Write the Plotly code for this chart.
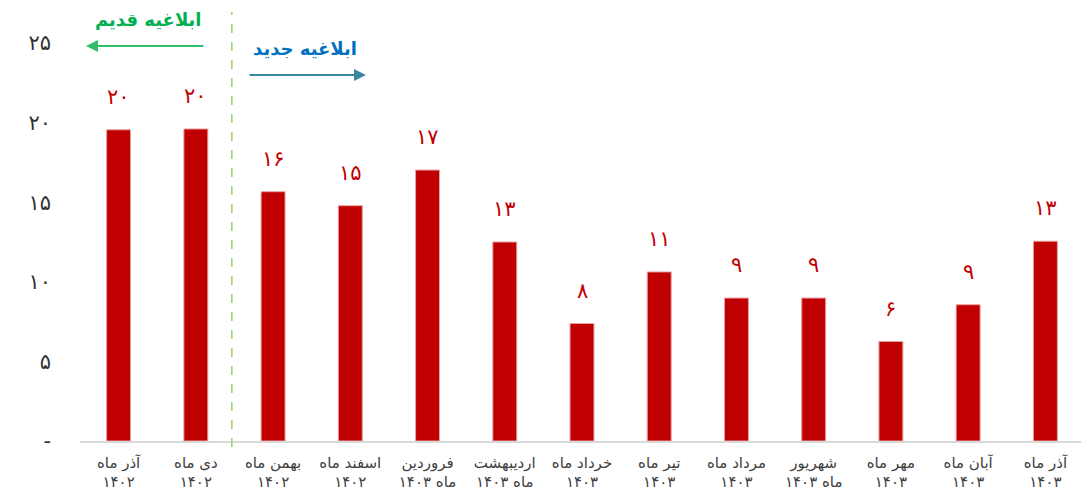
import plotly.graph_objects as go

categories = [
    "آذر ماه<br>۱۴۰۲", "دی ماه<br>۱۴۰۲", "بهمن ماه<br>۱۴۰۲", "اسفند ماه<br>۱۴۰۲",
    "فروردین<br>ماه ۱۴۰۳", "اردیبهشت<br>ماه ۱۴۰۳", "خرداد ماه<br>۱۴۰۳", "تیر ماه<br>۱۴۰۳",
    "مرداد ماه<br>۱۴۰۳", "شهریور<br>ماه ۱۴۰۳", "مهر ماه<br>۱۴۰۳", "آبان ماه<br>۱۴۰۳",
    "آذر ماه<br>۱۴۰۳",
]
values = [19.55, 19.6, 15.66, 14.78, 17.02, 12.5, 7.38, 10.62, 8.98, 8.98, 6.25, 8.56, 12.55]
value_labels = ["۲۰", "۲۰", "۱۶", "۱۵", "۱۷", "۱۳", "۸", "۱۱", "۹", "۹", "۶", "۹", "۱۳"]
y_tickvals = [0, 5, 10, 15, 20, 25]
y_ticktext = ["-", "۵", "۱۰", "۱۵", "۲۰", "۲۵"]

FONT = "DejaVu Sans"
RED = "#c00000"

x_idx = list(range(len(categories)))

fig = go.Figure()
fig.add_trace(go.Bar(
    x=x_idx, y=values, width=0.31,
    marker=dict(color=RED, line=dict(color="#e8a0a0", width=1)),
    hoverinfo="skip",
))

annotations = []
for xi, v, lab in zip(x_idx, values, value_labels):
    annotations.append(dict(
        x=xi, y=v, text=lab, showarrow=False, yshift=33, yanchor="middle",
        font=dict(family=FONT, size=21, color=RED),
    ))

OFF = 8  # page body margin
W, H = 1081, 494
L, R, T, B = 72, 5, 35, 61
pw, ph = W - L - R, H - T - B

def px(xp):
    return (xp - OFF - L) / pw

def py(yp):
    return (OFF + T + ph - yp) / ph

annotations += [
    dict(xref="paper", yref="paper", x=px(148), y=py(20), text="<b>ابلاغیه قدیم</b>",
         showarrow=False, font=dict(family=FONT, size=18, color="#00b050"),
         xanchor="center", yanchor="middle"),
    dict(xref="paper", yref="paper", x=px(305), y=py(48), text="<b>ابلاغیه جدید</b>",
         showarrow=False, font=dict(family=FONT, size=18, color="#0070c0"),
         xanchor="center", yanchor="middle"),
    dict(xref="paper", yref="paper", x=px(86), y=py(46), ax=119, ay=0,
         axref="pixel", ayref="pixel", text="", showarrow=True, arrowhead=2,
         arrowsize=1.2, arrowwidth=2, arrowcolor="#2fbf6a"),
    dict(xref="paper", yref="paper", x=px(366), y=py(75), ax=-118, ay=0,
         axref="pixel", ayref="pixel", text="", showarrow=True, arrowhead=2,
         arrowsize=1.2, arrowwidth=2, arrowcolor="#3a87a0"),
]

fig.update_layout(
    width=W, height=H,
    margin=dict(l=L, r=R, t=T, b=B),
    paper_bgcolor="white", plot_bgcolor="white",
    showlegend=False,
    annotations=annotations,
    shapes=[dict(type="line", xref="x", yref="paper", x0=1.466, x1=1.466,
                 y0=py(447), y1=py(12), line=dict(color="#9bd26a", width=1.5, dash="dash"))],
    xaxis=dict(
        range=[-0.5, len(categories) - 0.5],
        tickmode="array", tickvals=x_idx, ticktext=categories,
        showgrid=False, zeroline=False,
        showline=True, linecolor="#d9d9d9", linewidth=1.5,
        ticks="", ticklabelstandoff=7,
        tickfont=dict(family=FONT, size=15, color="#404040"),
    ),
    yaxis=dict(
        range=[0, 25],
        tickmode="array", tickvals=y_tickvals, ticktext=y_ticktext,
        showgrid=False, zeroline=False, showline=False, ticks="",
        ticklabelstandoff=28,
        tickfont=dict(family=FONT, size=21, color="#333333"),
    ),
)

fig.write_html("out.html")
